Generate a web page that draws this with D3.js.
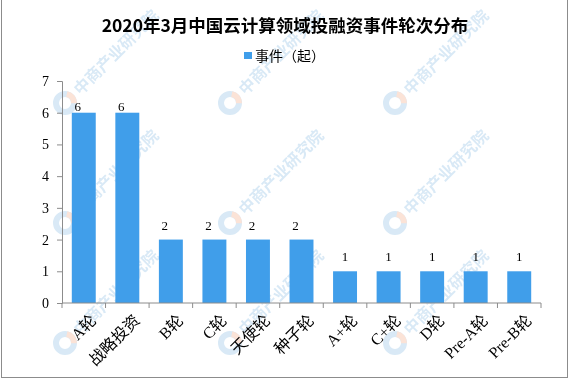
<!DOCTYPE html>
<html><head><meta charset="utf-8">
<script src="https://cdn.jsdelivr.net/npm/d3@7"></script>
<style>body{margin:0;background:#fff}svg{display:block}</style>
</head><body><svg id="c" width="570" height="381"></svg>
<script>
const title = "2020年3月中国云计算领域投融资事件轮次分布";
const seriesName = "事件（起）";
const categories = ["A轮","战略投资","B轮","C轮","天使轮","种子轮","A+轮","C+轮","D轮","Pre-A轮","Pre-B轮"];
const values = [6,6,2,2,2,2,1,1,1,1,1];
const yTicks = [0,1,2,3,4,5,6,7];
const watermark = "中商产业研究院";

const svg = d3.select("#c");
const W=570,H=381;
const m={l:62,r:29,t:81,b:78};
const serif = "'Liberation Serif','Noto Sans CJK SC',serif";
const cjk = "'Noto Sans CJK SC',sans-serif";

// watermarks (only those fully inside the picture)
const wm = svg.append("g").attr("opacity",0.3);
const cols=[65,230,395], rows=[103,223,343];
cols.forEach(cx=>rows.forEach(cy=>{
  const g=wm.append("g").attr("transform",`translate(${cx},${cy})`);
  g.append("circle").attr("r",9).attr("fill","none").attr("stroke","#7fb6e0").attr("stroke-width",6);
  g.append("path").attr("d",d3.arc()({innerRadius:6,outerRadius:12,startAngle:0.2,endAngle:1.6})).attr("fill","#f2a07a");
  g.append("text").attr("transform","rotate(-45) translate(16,6)")
    .attr("font-family",cjk).attr("font-size",16).attr("font-weight","bold")
    .attr("fill","#7fb6e0").text(watermark);
}));

// border
svg.append("rect").attr("x",1.5).attr("y",-1).attr("width",566).attr("height",378.5)
  .attr("fill","none").attr("stroke","#8c8c8c").attr("stroke-width",1);

const x=d3.scaleBand().domain(categories).range([m.l,W-m.r]).paddingInner(0.45).paddingOuter(0.225);
const y=d3.scaleLinear().domain([0,7]).range([H-m.b,m.t]);
const vmax=d3.max(values);

// title
svg.append("text").attr("x",285).attr("y",32).attr("text-anchor","middle")
  .attr("font-family",cjk).attr("font-weight","bold").attr("font-size",17.5).attr("fill","#000").text(title);

// legend
svg.append("rect").attr("x",244).attr("y",52).attr("width",8).attr("height",7).attr("fill","#409eea");
svg.append("text").attr("x",255).attr("y",60.5).attr("font-family",cjk).attr("font-size",14).attr("fill","#000").text(seriesName);

// bars
svg.append("g").selectAll("rect").data(values).join("rect")
  .attr("x",(d,i)=>x(categories[i])).attr("width",x.bandwidth())
  .attr("y",d=>y(d)).attr("height",d=>y(0)-y(d)).attr("fill","#409eea");

// value labels
svg.append("g").selectAll("text").data(values).join("text")
  .attr("x",(d,i)=>x(categories[i])+x.bandwidth()/2-(d===1?0:6)).attr("y",d=>y(d)-(d===vmax?2:10))
  .attr("text-anchor","middle").attr("font-family",serif).attr("font-size",13).attr("fill","#000").text(d=>d);

// y axis
const ya=svg.append("g").attr("transform",`translate(${m.l},0)`)
  .call(d3.axisLeft(y).tickValues(yTicks).tickFormat(d3.format("d")).tickSize(5).tickPadding(8));
ya.selectAll("text").attr("font-family",serif).attr("font-size",14).attr("fill","#000");
ya.selectAll("path,line").attr("stroke","#8c8c8c");

// x axis
const xa=svg.append("g").attr("transform",`translate(0,${y(0)})`);
xa.append("line").attr("x1",m.l).attr("x2",W-m.r).attr("stroke","#8c8c8c");
const bounds=d3.range(categories.length+1).map(i=>m.l+i*(W-m.r-m.l)/categories.length);
xa.selectAll("line.t").data(bounds).join("line").attr("class","t")
  .attr("x1",d=>d).attr("x2",d=>d).attr("y1",0).attr("y2",5).attr("stroke","#8c8c8c");
xa.selectAll("text").data(categories).join("text")
  .attr("transform",d=>`translate(${x(d)+x.bandwidth()/2+5},${10}) rotate(-45)`)
  .attr("text-anchor","end").attr("dy","0.75em")
  .attr("font-family",serif).attr("font-size",16).attr("fill","#000").text(d=>d);
</script></body></html>
